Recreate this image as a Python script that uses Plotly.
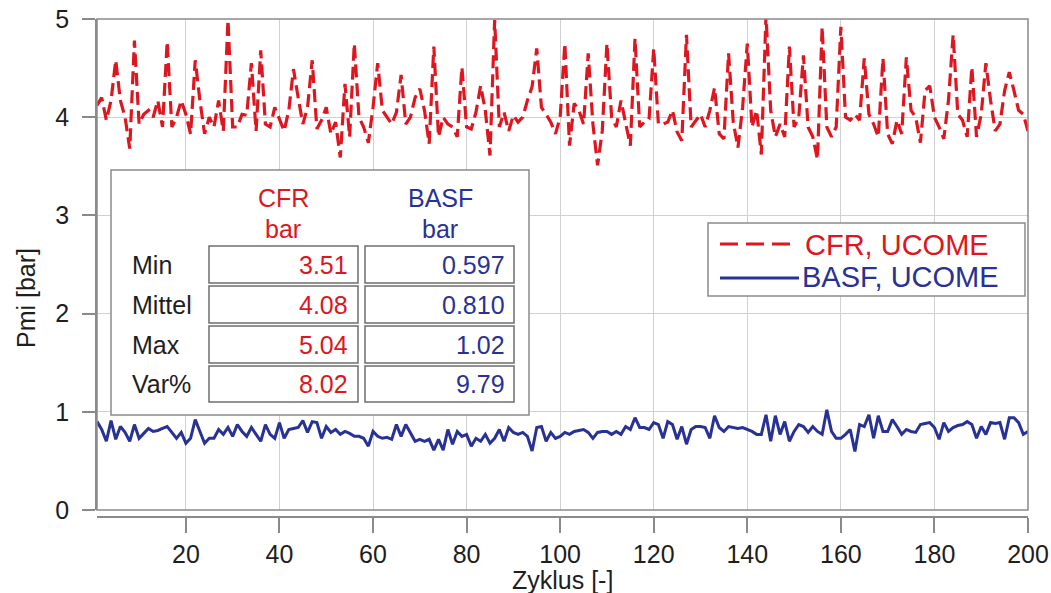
import plotly.graph_objects as go

# Zyklus-Nummern und indizierter Mitteldruck je Zyklus
zyklus = list(range(1, 201))

pmi_cfr = [
    4.12, 4.20, 3.97, 4.17, 4.58, 4.17, 4.00, 3.68, 4.78, 3.93,
    4.03, 4.07, 4.00, 4.17, 3.90, 4.77, 3.90, 4.00, 4.17, 4.03,
    3.83, 4.58, 4.17, 3.83, 4.00, 3.90, 4.17, 3.86, 4.99, 3.90,
    3.90, 4.03, 4.02, 4.55, 3.86, 4.68, 3.93, 3.90, 4.10, 3.97,
    3.86, 4.07, 4.49, 4.20, 3.93, 4.10, 4.58, 3.88, 3.97, 4.10,
    3.83, 3.95, 3.59, 4.34, 3.80, 4.75, 4.00, 3.90, 3.74, 4.10,
    4.55, 4.07, 4.00, 3.93, 4.05, 4.43, 3.93, 4.00, 4.20, 4.29,
    4.07, 3.73, 4.72, 3.80, 4.00, 3.93, 3.90, 3.80, 4.51, 3.90,
    3.88, 4.05, 4.32, 4.07, 3.61, 4.99, 3.90, 4.05, 3.86, 4.02,
    3.95, 4.00, 4.17, 4.31, 4.70, 4.10, 4.03, 3.95, 3.83, 4.00,
    4.75, 3.71, 4.14, 4.07, 3.93, 4.65, 3.93, 3.51, 3.86, 4.75,
    4.00, 3.90, 4.17, 3.93, 3.71, 4.80, 3.90, 3.95, 3.98, 4.70,
    3.93, 3.93, 3.95, 4.07, 3.85, 3.76, 4.84, 3.90, 3.97, 4.03,
    3.90, 4.07, 4.30, 3.83, 3.78, 4.65, 3.95, 3.69, 4.10, 4.75,
    3.90, 4.07, 3.62, 5.04, 4.07, 3.80, 3.93, 3.80, 4.72, 3.90,
    4.00, 4.63, 3.90, 3.80, 3.57, 4.92, 3.90, 3.80, 3.90, 4.92,
    4.00, 3.97, 4.03, 3.97, 4.60, 4.03, 3.93, 3.80, 4.60, 3.83,
    3.73, 3.97, 3.83, 4.61, 4.07, 4.00, 3.74, 4.27, 4.32, 4.00,
    3.90, 3.78, 4.17, 4.84, 4.03, 3.97, 3.80, 4.51, 3.80, 4.03,
    4.55, 4.17, 3.86, 3.93, 4.27, 4.46, 4.27, 4.07, 4.03, 3.86,
]

pmi_basf = [
    0.90, 0.82, 0.70, 0.91, 0.72, 0.85, 0.79, 0.70, 0.87, 0.73,
    0.78, 0.83, 0.80, 0.81, 0.83, 0.85, 0.79, 0.73, 0.79, 0.68,
    0.73, 0.92, 0.80, 0.68, 0.73, 0.73, 0.82, 0.77, 0.84, 0.75,
    0.87, 0.80, 0.75, 0.84, 0.77, 0.70, 0.87, 0.77, 0.73, 0.89,
    0.73, 0.82, 0.83, 0.84, 0.91, 0.79, 0.90, 0.89, 0.73, 0.85,
    0.79, 0.82, 0.77, 0.80, 0.78, 0.75, 0.75, 0.73, 0.65, 0.80,
    0.75, 0.73, 0.74, 0.72, 0.87, 0.75, 0.87, 0.79, 0.70, 0.72,
    0.70, 0.72, 0.61, 0.72, 0.61, 0.82, 0.67, 0.80, 0.75, 0.77,
    0.65, 0.73, 0.70, 0.77, 0.68, 0.73, 0.82, 0.70, 0.84, 0.79,
    0.77, 0.79, 0.75, 0.60, 0.84, 0.85, 0.70, 0.79, 0.73, 0.75,
    0.79, 0.77, 0.80, 0.81, 0.82, 0.79, 0.73, 0.79, 0.80, 0.80,
    0.77, 0.80, 0.77, 0.85, 0.82, 0.94, 0.84, 0.84, 0.82, 0.89,
    0.87, 0.73, 0.90, 0.87, 0.72, 0.85, 0.67, 0.82, 0.85, 0.85,
    0.84, 0.73, 0.96, 0.84, 0.80, 0.85, 0.84, 0.83, 0.84, 0.82,
    0.80, 0.77, 0.77, 0.97, 0.70, 0.96, 0.77, 0.90, 0.70, 0.80,
    0.87, 0.85, 0.79, 0.85, 0.80, 0.77, 1.02, 0.80, 0.73, 0.73,
    0.77, 0.82, 0.597, 0.87, 0.85, 0.97, 0.73, 0.96, 0.80, 0.80,
    0.92, 0.85, 0.77, 0.82, 0.80, 0.79, 0.87, 0.88, 0.89, 0.84,
    0.72, 0.89, 0.80, 0.84, 0.86, 0.87, 0.90, 0.87, 0.73, 0.85,
    0.77, 0.89, 0.88, 0.89, 0.72, 0.94, 0.94, 0.89, 0.77, 0.80,
]

# Kennwerte-Tabelle
stat_rows = ["Min", "Mittel", "Max", "Var%"]
stat_cfr = ["3.51", "4.08", "5.04", "8.02"]
stat_basf = ["0.597", "0.810", "1.02", "9.79"]
x_ticks = list(range(20, 201, 20))
y_ticks = [0, 1, 2, 3, 4, 5]

RED = "rgb(222,22,32)"
BLUE = "rgb(40,50,148)"
GRID = "rgb(208,208,208)"
FRAME = "rgb(138,138,138)"
TXT = "rgb(30,30,30)"
FONT = "Liberation Sans, Arial, Helvetica, sans-serif"

W, H = 1051, 593
ML, MR, MT, MB = 97, 23, 19, 76
PW, PH = W - ML - MR, H - MT - MB


def fx(p):
    """pixel column -> paper x"""
    return (p - ML) / PW


def fy(p):
    """pixel row -> paper y"""
    return (H - MB - p) / PH


fig = go.Figure()
fig.add_trace(go.Scatter(
    x=zyklus, y=pmi_cfr, mode="lines", name="CFR, UCOME",
    line=dict(color=RED, width=3.2, dash="13px,6px"), showlegend=False))
fig.add_trace(go.Scatter(
    x=zyklus, y=pmi_basf, mode="lines", name="BASF, UCOME",
    line=dict(color=BLUE, width=3), showlegend=False))

shapes = []
annotations = []

# Rahmen des Diagrammfelds
shapes.append(dict(type="rect", xref="x domain", yref="y domain",
                   x0=0, x1=1, y0=0, y1=1, layer="above",
                   line=dict(color=FRAME, width=1.5)))

# Tabelle mit Kennwerten
shapes.append(dict(type="rect", xref="paper", yref="paper",
                   x0=fx(111), x1=fx(529), y0=fy(415), y1=fy(170),
                   layer="above", fillcolor="white",
                   line=dict(color=FRAME, width=1.5)))
row_y = [(246, 283), (286, 323), (326, 363), (366, 402)]
col_x = [(209, 358), (365, 514)]
for (r0, r1) in row_y:
    for (c0, c1) in col_x:
        shapes.append(dict(type="rect", xref="paper", yref="paper",
                           x0=fx(c0), x1=fx(c1), y0=fy(r1), y1=fy(r0),
                           layer="above", fillcolor="white",
                           line=dict(color="rgb(110,110,110)", width=1.5)))


def label(text, x, y, color, size, xanchor="center", angle=0):
    annotations.append(dict(text=text, x=fx(x), y=fy(y), xref="paper", yref="paper",
                            xanchor=xanchor, yanchor="middle", showarrow=False,
                            textangle=angle,
                            font=dict(family=FONT, size=size, color=color)))


label("CFR", 283, 198, RED, 25)
label("bar", 283, 229, RED, 25)
label("BASF", 440, 198, BLUE, 25)
label("bar", 440, 229, BLUE, 25)
for (r0, r1), name, vc, vb in zip(row_y, stat_rows, stat_cfr, stat_basf):
    yc = (r0 + r1) / 2
    label(name, 130, yc, TXT, 25, xanchor="left")
    label(vc, 350, yc, RED, 25, xanchor="right")
    label(vb, 507, yc, BLUE, 25, xanchor="right")

# Legende
shapes.append(dict(type="rect", xref="paper", yref="paper",
                   x0=fx(708), x1=fx(1025), y0=fy(296), y1=fy(223),
                   layer="above", fillcolor="white",
                   line=dict(color=FRAME, width=1.5)))
shapes.append(dict(type="line", xref="paper", yref="paper",
                   x0=fx(720), x1=fx(791), y0=fy(244), y1=fy(244), layer="above",
                   line=dict(color=RED, width=3, dash="18px,8px")))
shapes.append(dict(type="line", xref="paper", yref="paper",
                   x0=fx(720), x1=fx(799), y0=fy(278), y1=fy(278), layer="above",
                   line=dict(color=BLUE, width=3)))
label("CFR, UCOME", 803, 245, RED, 29, xanchor="left")
label("BASF, UCOME", 800, 277, BLUE, 29, xanchor="left")

# Achsentitel
label("Zyklus [-]", 562, 580, TXT, 25)
label("Pmi [bar]", 26, 298, TXT, 25, angle=-90)

fig.update_layout(
    width=W, height=H,
    margin=dict(l=ML, r=MR, t=MT, b=MB, autoexpand=False),
    paper_bgcolor="white", plot_bgcolor="white",
    font=dict(family=FONT, color=TXT),
    shapes=shapes, annotations=annotations,
    xaxis=dict(range=[1, 200], tickvals=x_ticks, anchor="free", position=0,
               automargin=False,
               showline=True, linecolor=FRAME, linewidth=1.5,
               ticks="outside", ticklen=15, tickwidth=1.5, tickcolor=FRAME,
               showgrid=True, gridcolor=GRID, gridwidth=1.2, zeroline=False,
               tickfont=dict(size=25, color=TXT, family=FONT)),
    yaxis=dict(range=[0, 5], tickvals=y_ticks, domain=[fy(510), 1],
               automargin=False,
               showline=True, linecolor=FRAME, linewidth=1.5,
               ticks="outside", ticklen=13, tickwidth=1.5, tickcolor=FRAME,
               showgrid=True, gridcolor=GRID, gridwidth=1.2, zeroline=False,
               ticklabelstandoff=8,
               tickfont=dict(size=25, color=TXT, family=FONT)),
)

fig.write_html("out.html")
